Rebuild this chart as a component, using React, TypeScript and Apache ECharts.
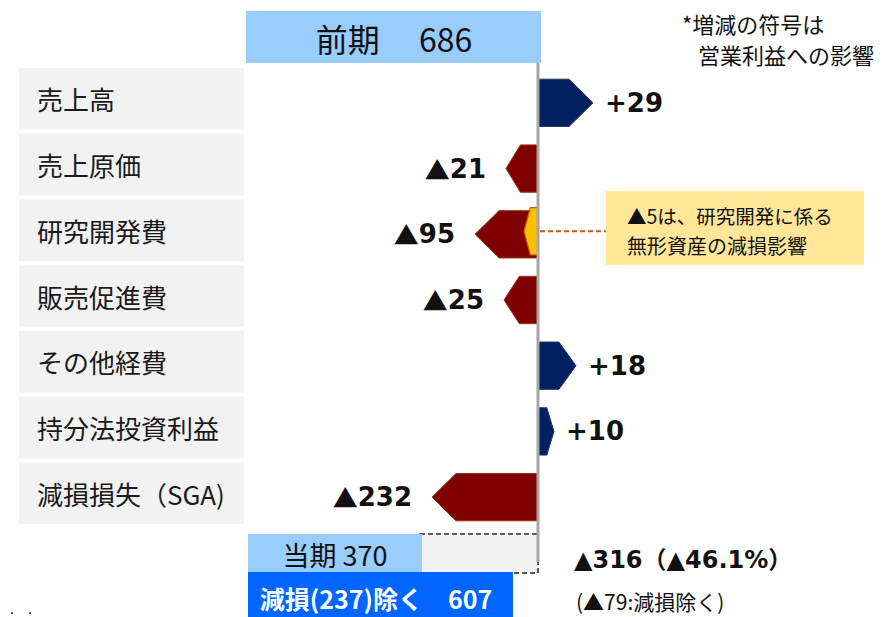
import React, { useEffect, useRef } from "react";
import * as echarts from "echarts";

// ---- data ----
const categories = [
  "売上高",
  "売上原価",
  "研究開発費",
  "販売促進費",
  "その他経費",
  "持分法投資利益",
  "減損損失（SGA)",
];
// change in operating profit (億円)
const changes = [29, -21, -95, -25, 18, 10, -232];
// schematic arrow lengths as drawn in the original (not proportional to the values)
const drawnLengths = [55, -32, -63, -34, 38, 16, -106];
// R&D impairment portion inside 研究開発費
const rdImpairmentIndex = 2;
const rdImpairmentValue = -5;
const rdImpairmentDrawn = -14;

const prevLabel = "前期";
const prevValue = 686;
const currLabel = "当期";
const currValue = 370;
const impairmentTotal = 237;
const exImpairmentValue = 607;
const totalChange = -316;
const totalChangePct = -46.1;
const exImpairmentChange = -79;

const noteLines = ["*増減の符号は", "営業利益への影響"];
const annotationLines = ["▲5は、研究開発に係る", "無形資産の減損影響"];

// ---- helpers ----
const CJK = '"Noto Sans CJK JP", "Noto Sans", sans-serif';
const NUM = '"DejaVu Sans", "Noto Sans CJK JP", sans-serif';
const fmtSigned = (v: number) => (v >= 0 ? "+" + v : "▲" + Math.abs(v));

export default function App() {
  const ref = useRef<HTMLDivElement>(null);

  useEffect(() => {
    if (!ref.current) return;
    const chart = echarts.init(ref.current, undefined, { renderer: "svg" });

    const arrowShape = (api: any, len: number, idx: number, shift: number) => {
      const p0 = api.coord([0, idx]);
      const p1 = api.coord([len, idx]);
      const band = api.size([0, 1])[1];
      const h = band * 0.72;
      const cy = p0[1] + shift;
      const dir = len >= 0 ? 1 : -1;
      const tip = Math.min(24, Math.abs(p1[0] - p0[0]) * 0.45);
      const x0 = p0[0];
      const x1 = p1[0];
      return {
        cy,
        x1,
        dir,
        points: [
          [x0, cy - h / 2],
          [x1 - dir * tip, cy - h / 2],
          [x1, cy],
          [x1 - dir * tip, cy + h / 2],
          [x0, cy + h / 2],
        ],
      };
    };

    const option: any = {
      animation: false,
      grid: { left: 0, right: 0, top: 66, bottom: 91 },
      xAxis: { type: "value", min: -538, max: 345, show: false },
      yAxis: {
        type: "category",
        data: categories,
        inverse: true,
        show: false,
      },
      series: [
        {
          // left category boxes
          type: "custom",
          silent: true,
          data: categories.map((_, i) => [0, i]),
          encode: { x: 0, y: 1 },
          renderItem: (params: any, api: any) => {
            const idx = api.value(1);
            const c = api.coord([0, idx]);
            const band = api.size([0, 1])[1];
            return {
              type: "group",
              children: [
                {
                  type: "rect",
                  shape: { x: 19, y: c[1] - band / 2 + 2, width: 225, height: band - 4 },
                  style: { fill: "#F2F2F2" },
                },
                {
                  type: "text",
                  style: {
                    x: 37,
                    y: c[1],
                    text: categories[idx],
                    fontFamily: CJK,
                    fontSize: 26,
                    fill: "#1a1a1a",
                    verticalAlign: "middle",
                    align: "left",
                  },
                },
              ],
            };
          },
        },
        {
          // change arrows
          type: "custom",
          silent: true,
          data: categories.map((_, i) => [drawnLengths[i], i, changes[i]]),
          encode: { x: 0, y: 1 },
          renderItem: (params: any, api: any) => {
            const len = api.value(0);
            const idx = api.value(1);
            const val = api.value(2);
            const a = arrowShape(api, len, idx, 4);
            const neg = val < 0;
            const label = fmtSigned(val);
            const num = String(Math.abs(val));
            return {
              type: "group",
              children: [
                {
                  type: "polygon",
                  shape: { points: a.points },
                  style: {
                    fill: neg ? "#800000" : "#002060",
                    stroke: neg ? "#9A3412" : "#1F3864",
                    lineWidth: 1,
                  },
                },
                {
                  type: "text",
                  style: {
                    x: a.x1 + (neg ? -20 : 12),
                    y: a.cy,
                    text: neg ? "{t|▲}{n|" + num + "}" : "{n|" + label + "}",
                    align: neg ? "right" : "left",
                    verticalAlign: "middle",
                    rich: {
                      t: { fontFamily: CJK, fontSize: 25, fontWeight: "bold", fill: "#111" },
                      n: { fontFamily: NUM, fontSize: 26, fontWeight: "bold", fill: "#111" },
                    },
                  },
                },
              ],
            };
          },
        },
        {
          // impairment portion of R&D
          type: "custom",
          silent: true,
          data: [[rdImpairmentDrawn, rdImpairmentIndex, rdImpairmentValue]],
          encode: { x: 0, y: 1 },
          renderItem: (params: any, api: any) => {
            const len = api.value(0);
            const idx = api.value(1);
            const a = arrowShape(api, len, idx, 1);
            const p0 = api.coord([0, idx]);
            return {
              type: "group",
              children: [
                {
                  type: "polygon",
                  shape: { points: a.points },
                  style: { fill: "#FFC000", stroke: "#C55A11", lineWidth: 1.2 },
                },
                {
                  type: "line",
                  shape: { x1: p0[0] + 2, y1: a.cy, x2: 606, y2: a.cy },
                  style: { stroke: "#C55A11", lineWidth: 2, lineDash: [5, 3] },
                },
              ],
            };
          },
        },
      ],
      graphic: [
        // zero line
        {
          type: "line",
          z: 100,
          shape: { x1: 538, y1: 63, x2: 538, y2: 562 },
          style: { stroke: "#A6A6A6", lineWidth: 3 },
        },
        // previous period box
        {
          type: "rect",
          shape: { x: 246, y: 11, width: 295, height: 52 },
          style: { fill: "#99CCFF" },
        },
        {
          type: "text",
          style: {
            x: 394,
            y: 38,
            text: prevLabel + "　 " + prevValue,
            fontFamily: CJK,
            fontSize: 32,
            fill: "#111",
            align: "center",
            verticalAlign: "middle",
          },
        },
        // note
        {
          type: "text",
          style: {
            x: 682,
            y: 23,
            text: noteLines[0],
            fontFamily: CJK,
            fontSize: 22,
            fill: "#111",
            verticalAlign: "middle",
          },
        },
        {
          type: "text",
          style: {
            x: 698,
            y: 54,
            text: noteLines[1],
            fontFamily: CJK,
            fontSize: 22,
            fill: "#111",
            verticalAlign: "middle",
          },
        },
        // annotation
        {
          type: "rect",
          shape: { x: 606, y: 191, width: 258, height: 74 },
          style: { fill: "#FFE699" },
        },
        {
          type: "text",
          style: {
            x: 627,
            y: 215,
            text: annotationLines[0],
            fontFamily: CJK,
            fontSize: 19.5,
            fill: "#111",
            verticalAlign: "middle",
          },
        },
        {
          type: "text",
          style: {
            x: 627,
            y: 245,
            text: annotationLines[1],
            fontFamily: CJK,
            fontSize: 20,
            fill: "#111",
            verticalAlign: "middle",
          },
        },
        // current period
        {
          type: "rect",
          shape: { x: 420, y: 534, width: 118, height: 39 },
          style: { fill: "#F2F2F2", stroke: "#595959", lineWidth: 2, lineDash: [5, 3] },
        },
        {
          type: "rect",
          shape: { x: 248, y: 534, width: 174, height: 38 },
          style: { fill: "#99CCFF" },
        },
        {
          type: "text",
          style: {
            x: 335,
            y: 554,
            text: currLabel + " " + currValue,
            fontFamily: CJK,
            fontSize: 27,
            fill: "#111",
            align: "center",
            verticalAlign: "middle",
          },
        },
        {
          type: "rect",
          shape: { x: 248, y: 572, width: 265, height: 45 },
          style: { fill: "#0066FF" },
        },
        {
          type: "text",
          style: {
            x: 376,
            y: 598,
            text: "減損(" + impairmentTotal + ")除く　" + exImpairmentValue,
            fontFamily: CJK,
            fontSize: 25,
            lineHeight: 30,
            fontWeight: "bold",
            fill: "#ffffff",
            align: "center",
            verticalAlign: "middle",
          },
        },
        {
          type: "text",
          style: {
            x: 574,
            y: 560,
            text: fmtSigned(totalChange) + "（" + fmtSigned(totalChangePct) + "%）",
            fontFamily: NUM,
            fontSize: 24,
            fontWeight: "bold",
            fill: "#111",
            verticalAlign: "middle",
          },
        },
        {
          type: "text",
          style: {
            x: 576,
            y: 601,
            text: "(" + fmtSigned(exImpairmentChange) + ":減損除く)",
            fontFamily: CJK,
            fontSize: 21,
            lineHeight: 24,
            fill: "#111",
            verticalAlign: "middle",
          },
        },
        // tiny marks bottom-left
        { type: "rect", shape: { x: 11, y: 612, width: 2, height: 2 }, style: { fill: "#555" } },
        { type: "rect", shape: { x: 29, y: 612, width: 2, height: 2 }, style: { fill: "#555" } },
      ],
    };

    chart.setOption(option);
    return () => chart.dispose();
  }, []);

  return (
    <div
      ref={ref}
      style={{ position: "fixed", left: 0, top: 0, width: 883, height: 617, background: "#fff" }}
    />
  );
}
